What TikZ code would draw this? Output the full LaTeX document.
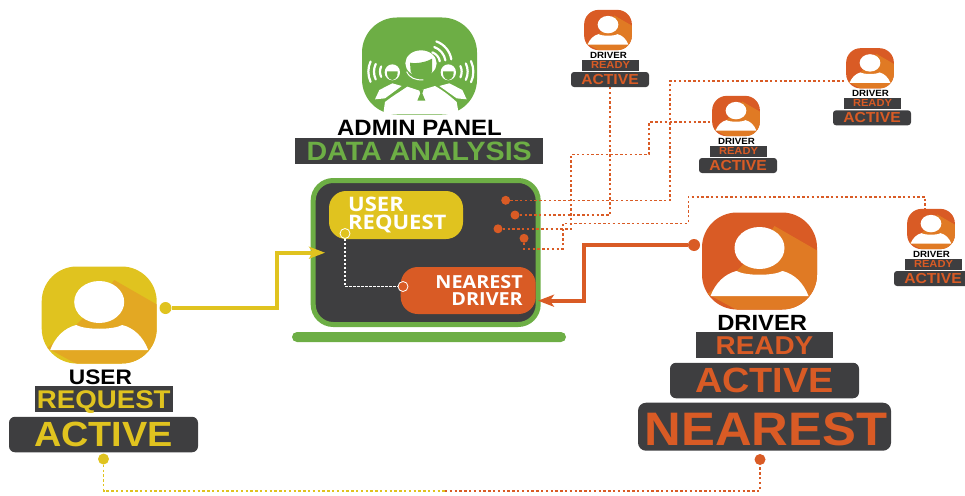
\documentclass[tikz,border=0pt]{standalone}
\usepackage{fontspec}
\setmainfont{Liberation Sans}[FakeStretch=1.08]
\newfontfamily\panelfont{Open Sans}[FakeStretch=1.1]
\usetikzlibrary{arrows.meta}
\definecolor{darkbox}{HTML}{3E3E40}
\definecolor{adminG}{HTML}{6DAE45}
\definecolor{userY}{HTML}{E0C31F}
\definecolor{userL}{HTML}{E3A823}
\definecolor{driverO}{HTML}{D95B25}
\definecolor{driverL}{HTML}{E07A24}
\tikzset{
  person/.style n args={4}{rectangle,rounded corners=#4,fill=#1,inner sep=0pt,
    minimum width=115pt*#3,minimum height=97pt*#3,
    path picture={
      \begin{scope}[shift={(path picture bounding box.center)},x=#3pt,y=-#3pt,sharp corners]
        \fill[#2] (15,-35) -- (62,-8) -- (62,52) -- (-17,52) -- (-52,33) -- (-23,10) -- (0,-13) -- cycle;
        \fill[white] (-49,35) .. controls (-44,22) and (-35,13) .. (-23,10)
          .. controls (-14,15) and (14,15) .. (23,10)
          .. controls (35,13) and (44,22) .. (49,35) -- cycle;
        \fill[white] (0,-13) ellipse [x radius=25,y radius=21];
      \end{scope}}},
  textbox/.style={fill=darkbox,inner sep=0pt,text depth=0pt},
  roundbox/.style={textbox,rounded corners=#1},
  caps/.style={font=\bfseries\fontsize{#1}{#1}\selectfont,inner sep=0pt,text depth=0pt},
  pilltext/.style={font=\panelfont\bfseries\fontsize{#1}{#1}\selectfont,text=white,inner sep=0pt,align=left},
  dot/.style={circle,fill=#1,inner sep=0pt,minimum size=9pt},
  link/.style={draw=#1,line width=1.6pt,dash pattern=on 2.4pt off 2.4pt},
  feed/.style={draw=#1,line width=4pt,-{Stealth[length=16pt,width=12pt,inset=4pt]}}
}
\begin{document}
\begin{tikzpicture}[x=1pt,y=-1pt]
  \useasboundingbox (0,0) rectangle (965,495);

  % admin panel
  \node[rectangle,rounded corners=35pt,fill=adminG,minimum width=115pt,minimum height=97pt,inner sep=0pt] (admin) at (419.5,66) {};
  \begin{scope}[shift={(360,30)},scale=1/3]
    \fill[white] (70,250) -- (75,216) .. controls (95,200) and (120,185) .. (142,170) -- (178,182) -- (225,168) .. controls (250,182) and (270,198) .. (290,216) -- (296,250) -- cycle;
    \fill[white] (45,208) -- (58,180) -- (97,160) -- (125,168) -- (75,205) -- cycle;
    \fill[white] (320,208) -- (307,180) -- (268,160) -- (238,168) -- (290,205) -- cycle;
    \fill[adminG] (177,178) -- (191,178) -- (187,190) -- (196,212) -- (172,212) -- (181,190) -- cycle;
    \fill[white] (183,100) ellipse [x radius=47,y radius=39];
    \fill[adminG] (150,98) .. controls (170,102) and (200,96) .. (216,86) -- (216,125) .. controls (208,155) and (165,160) .. (152,125) -- cycle;
    \draw[white,line width=1pt] (140,125) .. controls (150,145) and (165,150) .. (190,150);
    \foreach \hx in {97,265} {
      \fill[white] (\hx,127) ellipse [x radius=23,y radius=24];
      \fill[adminG] (\hx-16,124) -- (\hx+16,124) -- (\hx+15,138) .. controls (\hx+8,154) and (\hx-8,154) .. (\hx-15,138) -- cycle;
    }
    \begin{scope}[white,line width=2.2pt,line cap=round]
      \foreach \r in {37,55,72} {
        \draw ([shift={(155:\r)}]97,125) arc [start angle=155,end angle=205,radius=\r];
        \draw ([shift={(-25:\r+3)}]265,125) arc [start angle=-25,end angle=25,radius=\r+3];
      }
      \foreach \r in {35,52,70} \draw ([shift={(-70:\r)}]205,100) arc [start angle=-70,end angle=-10,radius=\r];
    \end{scope}
    \draw[white,line width=1pt] (80,251) -- (286,251);
  \end{scope}
  \node[caps=22.2] (adminlabel) at (419.5,128) {ADMIN PANEL};
  \node[textbox,minimum width=248.5pt,minimum height=26.5pt,font=\bfseries\fontsize{26.5}{26.5}\selectfont,text=adminG] (analysis) at (419.2,151) {DATA ANALYSIS};

  % laptop
  \node[rectangle,rounded corners=20pt,draw=adminG,line width=5pt,fill=darkbox,minimum width=225pt,minimum height=144pt,inner sep=0pt] (laptop) at (425.7,252.5) {};
  \node[rectangle,rounded corners=5pt,fill=adminG,minimum width=274pt,minimum height=10pt,inner sep=0pt] (base) at (429,337) {};
  \node[rectangle,rounded corners=17pt,fill=userY,minimum width=134pt,minimum height=48pt,inner sep=0pt] (reqpill) at (396,215) {};
  \node[pilltext=20,anchor=north west] (reqtext) at (348,196.5) {USER\\[-2pt]REQUEST};
  \node[rectangle,rounded corners=17pt,fill=driverO,minimum width=135pt,minimum height=47pt,inner sep=0pt] (nearpill) at (468.2,290.5) {};
  \node[pilltext=18,align=right,anchor=north east] (neartext) at (523,275) {NEAREST\\[-1pt]DRIVER};
  \node[circle,draw=white,fill=userY,line width=.8pt,inner sep=0pt,minimum size=10pt] (reqdot) at (345,233.5) {};
  \node[circle,draw=white,fill=driverO,line width=.8pt,inner sep=0pt,minimum size=10pt] (neardot) at (403,286.5) {};
  \draw[white,line width=1.2pt,dash pattern=on 2.5pt off 1.5pt] (reqdot) |- (neardot);

  % user
  \node[person={userY}{userL}{1}{35pt}] (user) at (99.2,315) {};
  \node[caps=21] (userlabel) at (100.5,377.5) {USER};
  \node[textbox,minimum width=137.7pt,minimum height=26.5pt,font=\bfseries\fontsize{25.6}{25.6}\selectfont,text=userY] (request) at (103.8,399.2) {REQUEST};
  \node[roundbox=6pt,minimum width=189pt,minimum height=35.5pt,font=\bfseries\fontsize{35}{35}\selectfont,text=userY] (useractive) at (103.5,434.5) {ACTIVE};
  \node[dot=userY,minimum size=12pt] (userdot) at (165.5,308) {};
  \node[dot=userY,minimum size=11pt] (userlow) at (103.5,459) {};

  % nearest driver
  \node[person={driverO}{driverL}{1}{35pt}] (driver) at (759.5,261) {};
  \node[caps=22] (driverlabel) at (762.2,323.2) {DRIVER};
  \node[textbox,minimum width=137.7pt,minimum height=26.5pt,font=\bfseries\fontsize{25.8}{25.8}\selectfont,text=driverO] (ready) at (764.5,345.2) {READY};
  \node[roundbox=6pt,minimum width=189pt,minimum height=35.5pt,font=\bfseries\fontsize{35}{35}\selectfont,text=driverO] (driveractive) at (764.5,380.5) {ACTIVE};
  \node[roundbox=8pt,minimum width=253pt,minimum height=48pt] (nearest) at (764.5,426.7) {};
  \node[caps=47,text=driverO] (nearestlabel) at (766,429) {NEAREST};
  \node[dot=driverO,minimum size=12pt] (driverdot) at (694,245) {};
  \node[dot=driverO,minimum size=11pt] (driverlow) at (760,459.5) {};

  % other drivers
  \foreach \name/\cx/\cy in {A/608/30,B/870/68.3,C/736/116,D/931/229} {
    \node[person={driverO}{driverL}{.415}{14.5pt}] (icon\name) at (\cx,\cy) {};
    \node[caps=9] (label\name) at (\cx+.5,\cy+25) {DRIVER};
    \node[textbox,minimum width=56.7pt,minimum height=11pt,font=\bfseries\fontsize{10.3}{10.3}\selectfont,text=driverO] (ready\name) at (\cx+2.5,\cy+35) {READY};
    \node[roundbox=3pt,minimum width=78pt,minimum height=15pt,font=\bfseries\fontsize{14.5}{14.5}\selectfont,text=driverO] (active\name) at (\cx+2,\cy+49.5) {ACTIVE};
  }

  % dots on the laptop
  \node[dot=driverO] (dotA) at (505.7,200.3) {};
  \node[dot=driverO] (dotB) at (515,215) {};
  \node[dot=driverO] (dotC) at (498,228.8) {};
  \node[dot=driverO] (dotD) at (524,238.3) {};

  % connectors
  \draw[link=driverO] (dotA) -| (670,80.7) -- (iconB.west |- 670,80.7);
  \draw[link=driverO] (dotB) -| (activeA.south);
  \draw[link=driverO] (dotC) -| (571,154.3) -| (649,122) -- (iconC.west |- 649,122);
  \draw[link=driverO] (dotD) |- (562.7,248.8) |- (688.3,223.3) |- (925,196.7) -- (925,209);
  \coordinate (intake) at (325,252.7);
  \coordinate (outlet) at (538,300.7);
  \draw[feed=userY] (userdot) -| (277,252.7) -- (intake);
  \draw[feed=driverO] (driverdot) -| (584,300.7) -- (outlet);
  \coordinate (lowmid) at (445,490.7);
  \draw[link=userY] (userlow) |- (lowmid);
  \draw[link=driverO] (lowmid) -| (driverlow);
\end{tikzpicture}
\end{document}
